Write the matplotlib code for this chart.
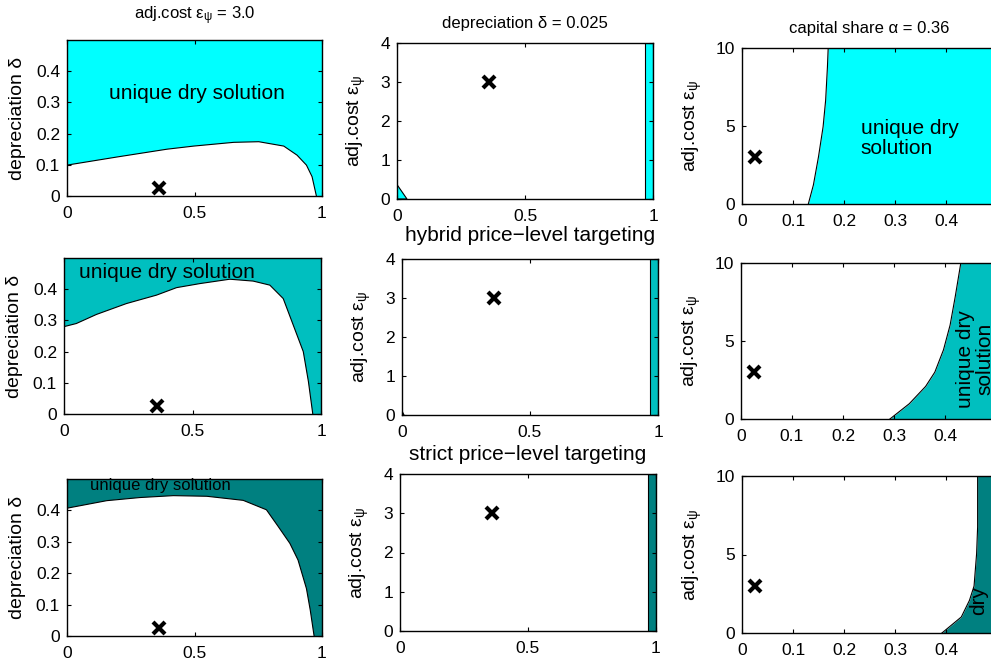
import matplotlib.pyplot as plt

plt.rcParams['font.family'] = ['Liberation Sans', 'DejaVu Sans']
plt.rcParams['mathtext.fontset'] = 'custom'
plt.rcParams['mathtext.rm'] = 'Liberation Sans'
plt.rcParams['mathtext.it'] = 'Liberation Sans'
plt.rcParams['mathtext.bf'] = 'Liberation Sans'

# fill colours per row (inflation targeting / hybrid / strict)
row_colors = ['#00FFFF', '#00BFBF', '#008080']

# column 1: boundary in (x, depreciation) space, region above/right is "unique dry"
c1_x = [
    [0, 0.196, 0.392, 0.497, 0.654, 0.752, 0.85, 0.902, 0.939, 0.961, 0.978],
    [0, 0.048, 0.126, 0.243, 0.36, 0.438, 0.529, 0.645, 0.736, 0.801, 0.853, 0.892, 0.931, 0.951, 0.968],
    [0, 0.156, 0.287, 0.417, 0.548, 0.691, 0.782, 0.828, 0.874, 0.906, 0.939, 0.954, 0.969],
]
c1_y = [
    [0.099, 0.125, 0.150, 0.160, 0.172, 0.174, 0.160, 0.131, 0.099, 0.062, 0.0],
    [0.280, 0.290, 0.319, 0.354, 0.381, 0.405, 0.418, 0.432, 0.426, 0.413, 0.370, 0.285, 0.200, 0.104, 0.0],
    [0.407, 0.431, 0.441, 0.447, 0.445, 0.432, 0.402, 0.349, 0.295, 0.242, 0.151, 0.082, 0.0],
]

# column 2: small corner triangle and strip near x = 1
c2_tri_x = [[0, 0, 0.039], [0, 0, 0.008], [0, 0, 0.002]]
c2_tri_y = [[0, 0.37, 0], [0, 0.10, 0], [0, 0.03, 0]]
c2_strip = [0.970, 0.968, 0.970]

# column 3: boundary in (capital share, adj.cost) space, region right is "unique dry"
c3_x = [
    [0.130, 0.140, 0.150, 0.159, 0.164, 0.1675, 0.169],
    [0.292, 0.330, 0.362, 0.380, 0.397, 0.410, 0.420, 0.431],
    [0.392, 0.430, 0.446, 0.455, 0.460, 0.462, 0.462],
]
c3_y = [
    [0, 1.22, 3.03, 4.95, 6.65, 8.78, 10],
    [0, 0.98, 2.09, 3.0, 4.43, 6.02, 7.83, 10],
    [0, 1.02, 2.08, 2.99, 5.05, 6.75, 10],
]

# calibration marker
mark_c1 = (0.36, 0.025)
mark_c2 = (0.36, 3)
mark_c3 = (0.025, 3)

W, H = 991, 666
fig = plt.figure(figsize=(W / 100, H / 100), dpi=100)

# axes boxes in pixels: left, top, right, bottom
boxes = [
    [(67, 40, 322, 196), (397, 43, 653, 199), (742, 48, 997, 204)],
    [(64, 258, 321, 414), (402, 259, 658, 415), (741, 263, 996, 419)],
    [(67, 479, 322, 636), (400, 474, 656, 631), (742, 476, 997, 633)],
]

eps_label = r'adj.cost $\varepsilon_\psi$'

def make_ax(b):
    l, t, r, bt = b
    ax = fig.add_axes([l / W, 1 - bt / H, (r - l) / W, (bt - t) / H])
    ax.tick_params(direction='in', top=True, right=True, length=3, labelsize=12.5)
    ax.tick_params(axis='x', pad=7)
    ax.tick_params(axis='y', pad=5)
    for s in ax.spines.values():
        s.set_linewidth(1.0)
    return ax

for i in range(3):
    col = row_colors[i]

    # column 1
    ax = make_ax(boxes[i][0])
    px = c1_x[i] + [1, 1, 0]
    py = c1_y[i] + [0, 0.5, 0.5]
    ax.fill(px, py, color=col, lw=0)
    ax.plot(c1_x[i], c1_y[i], 'k', lw=0.8)
    ax.plot(*mark_c1, 'kx', ms=8, mew=3)
    ax.set_xlim(0, 1)
    ax.set_ylim(0, 0.5)
    ax.set_xticks([0, 0.5, 1])
    ax.set_xticklabels(['0', '0.5', '1'])
    ax.set_yticks([0, 0.1, 0.2, 0.3, 0.4])
    ax.set_yticklabels(['0', '0.1', '0.2', '0.3', '0.4'])
    ax.set_ylabel('depreciation δ', fontsize=14)
    ax.yaxis.set_label_coords(-0.161, 0.5)
    if i == 0:
        ax.set_title(r'adj.cost $\varepsilon_\psi$ = 3.0', fontsize=12, pad=15)
        ax.text(0.51, 0.33, 'unique dry solution', fontsize=15, ha='center', va='center')
    elif i == 1:
        ax.text(0.06, 0.455, 'unique dry solution', fontsize=15, ha='left', va='center')
    else:
        ax.text(0.09, 0.478, 'unique dry solution', fontsize=12, ha='left', va='center')

    # column 2
    ax = make_ax(boxes[i][1])
    ax.fill(c2_tri_x[i], c2_tri_y[i], facecolor=col, edgecolor='k', lw=0.8)
    ax.fill_betweenx([0, 4], c2_strip[i], 1, facecolor=col, edgecolor='k', lw=0.8)
    ax.plot(*mark_c2, 'kx', ms=8, mew=3)
    ax.set_xlim(0, 1)
    ax.set_ylim(0, 4)
    ax.set_xticks([0, 0.5, 1])
    ax.set_xticklabels(['0', '0.5', '1'])
    ax.set_yticks([0, 1, 2, 3, 4])
    ax.set_ylabel(eps_label, fontsize=14)
    ax.yaxis.set_label_coords(-0.112, 0.5)
    if i == 0:
        ax.set_title('depreciation δ = 0.025', fontsize=12, pad=11)
    elif i == 1:
        ax.set_title('hybrid price\u2212level targeting', fontsize=15, pad=13)
    else:
        ax.set_title('strict price\u2212level targeting', fontsize=15, pad=10)

    # column 3
    ax = make_ax(boxes[i][2])
    ax.fill_betweenx(c3_y[i], c3_x[i], 0.5, color=col, lw=0)
    ax.plot(c3_x[i], c3_y[i], 'k', lw=0.8)
    ax.plot(*mark_c3, 'kx', ms=8, mew=3)
    ax.set_xlim(0, 0.5)
    ax.set_ylim(0, 10)
    ax.set_xticks([0, 0.1, 0.2, 0.3, 0.4])
    ax.set_xticklabels(['0', '0.1', '0.2', '0.3', '0.4'])
    ax.set_yticks([0, 5, 10])
    ax.set_ylabel(eps_label, fontsize=14)
    ax.yaxis.set_label_coords(-0.148, 0.5)
    if i == 0:
        ax.set_title('capital share α = 0.36', fontsize=12, pad=11)
        ax.text(0.233, 4.2, 'unique dry\nsolution', fontsize=15, ha='left', va='center',
                linespacing=1.05)
    elif i == 1:
        ax.text(0.459, 0.7, 'unique dry\nsolution', fontsize=15, ha='center', va='bottom',
                rotation=90, linespacing=1.05)
    else:
        ax.text(0.463, 1.15, 'dry', fontsize=15, ha='center', va='bottom', rotation=90)

fig.savefig('out.png', dpi=100)
